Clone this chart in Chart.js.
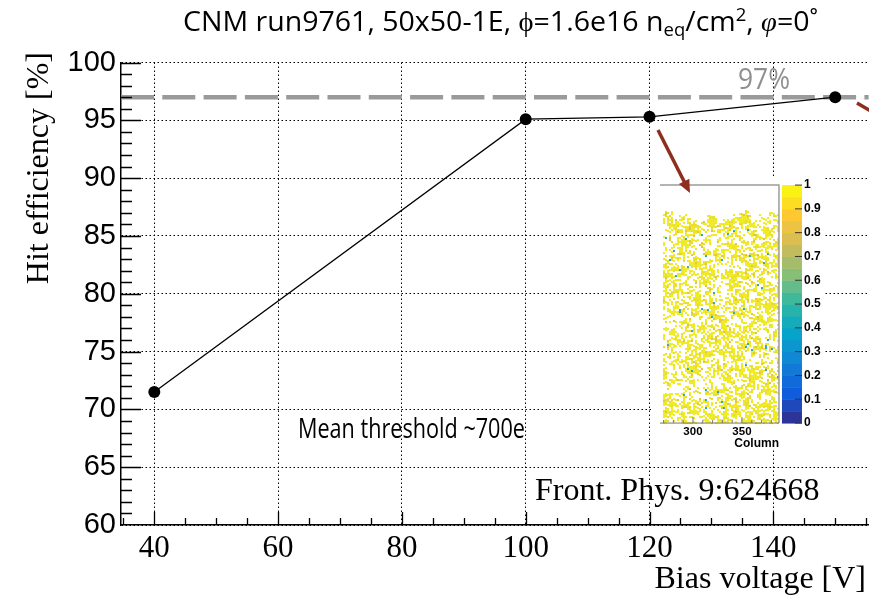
<!DOCTYPE html>
<html><head><meta charset="utf-8">
<script src="https://cdn.jsdelivr.net/npm/chart.js@4"></script>
<style>html,body{margin:0;padding:0;background:#fff}#wrap{width:869px;height:599px;position:relative}</style>
</head><body><div id="wrap"><canvas id="c" width="869" height="599"></canvas></div>
<script>
// ---- data ----
const biasVoltage = [40, 100, 120, 150];
const hitEfficiency = [71.5, 95.1, 95.3, 97.0];
const xTickValues = [40, 60, 80, 100, 120, 140];
const yTickValues = [60, 65, 70, 75, 80, 85, 90, 95, 100];
const referenceLevel = 97;
const referenceLabel = '97%';
const colorbarTicks = [0, 0.1, 0.2, 0.3, 0.4, 0.5, 0.6, 0.7, 0.8, 0.9, 1];
const insetColumnTicks = [250, 300, 350];

const X_MIN = 34.62, X_MAX = 155.46, Y_MIN = 60, Y_MAX = 100;

const bird = [[0.2082,0.1664,0.5293],[0.0592,0.3599,0.8684],[0.0780,0.5041,0.8385],[0.0232,0.6419,0.7914],[0.1802,0.7178,0.6425],[0.5301,0.7492,0.4662],[0.8186,0.7328,0.3499],[0.9956,0.7862,0.1968],[0.9764,0.9832,0.0539]];
function birdColor(t){
  const s = Math.max(0, Math.min(1, t)) * 8;
  const k = Math.min(7, Math.floor(s)), f = s - k;
  const a = bird[k], b = bird[k+1];
  const c = a.map((v,i)=>Math.round(255*(v + (b[i]-v)*f)));
  return `rgb(${c[0]},${c[1]},${c[2]})`;
}
function hash(i, j){ const h = Math.sin(i*127.1 + j*311.7) * 43758.5453; return h - Math.floor(h); }
function vnoise(x, y, cell, seed){
  const gx = Math.floor(x / cell), gy = Math.floor(y / cell);
  let fx = x / cell - gx, fy = y / cell - gy;
  fx = fx*fx*(3-2*fx); fy = fy*fy*(3-2*fy);
  const a = hash(gx+seed, gy), b = hash(gx+1+seed, gy), c = hash(gx+seed, gy+1), d = hash(gx+1+seed, gy+1);
  return (a*(1-fx) + b*fx)*(1-fy) + (c*(1-fx) + d*fx)*fy;
}

function drawTextRun(ctx, segs, cx, baseline, targetW){
  let total = 0;
  segs.forEach(s => { ctx.font = s.f; s.w = ctx.measureText(s.t).width; total += s.w; });
  const sx = targetW / total;
  ctx.save();
  ctx.translate(cx - targetW/2, baseline);
  ctx.scale(sx, 1);
  let x = 0;
  ctx.textAlign = 'left'; ctx.textBaseline = 'alphabetic';
  segs.forEach(s => { ctx.font = s.f; ctx.fillStyle = s.c || '#000'; ctx.fillText(s.t, x, s.dy || 0); x += s.w; });
  ctx.restore();
}

function arrow(ctx, x1, y1, x2, y2, color, headLen){
  const ang = Math.atan2(y2-y1, x2-x1);
  ctx.save();
  ctx.strokeStyle = color; ctx.fillStyle = color; ctx.lineWidth = 3.5;
  ctx.beginPath(); ctx.moveTo(x1, y1);
  ctx.lineTo(x2 - Math.cos(ang)*headLen*0.8, y2 - Math.sin(ang)*headLen*0.8); ctx.stroke();
  if (headLen > 0){
    ctx.beginPath(); ctx.moveTo(x2, y2);
    ctx.lineTo(x2 - headLen*Math.cos(ang) + headLen*0.45*Math.sin(ang), y2 - headLen*Math.sin(ang) - headLen*0.45*Math.cos(ang));
    ctx.lineTo(x2 - headLen*Math.cos(ang) - headLen*0.45*Math.sin(ang), y2 - headLen*Math.sin(ang) + headLen*0.45*Math.cos(ang));
    ctx.closePath(); ctx.fill();
  }
  ctx.restore();
}

const decor = {
  id: 'decor',
  beforeDatasetsDraw(chart){
    const ctx = chart.ctx, xs = chart.scales.x, ys = chart.scales.y;
    // reference dashed line
    const yr = ys.getPixelForValue(referenceLevel);
    ctx.save();
    ctx.strokeStyle = '#9a9a9a'; ctx.lineWidth = 4.5; ctx.setLineDash([33, 8.3]);
    ctx.beginPath(); ctx.moveTo(xs.getPixelForValue(X_MIN), yr); ctx.lineTo(xs.getPixelForValue(155.4), yr); ctx.stroke();
    ctx.restore();

    // inset (efficiency map) anchored at data position
    const L = xs.getPixelForValue(121.69), T = ys.getPixelForValue(89.40);
    const W = 119, H = 238;
    ctx.save();
    ctx.fillStyle = '#fff';
    ctx.fillRect(L - 9, T - 9, 172, 274);
    // speckles (texture only)
    for (let i = 0; i < Math.floor((W - 3) / 2); i++){
      const top = T + 24 + Math.floor(vnoise(i*2, 0, 6, 9) * 14);
      for (let y = top; y < T + H; y += 2){
        const j = Math.floor((y - T) / 2);
        const v = 0.42*vnoise(i*2, y - T, 6, 0) + 0.58*hash(i+17, j+5);
        if (v > 0.5){
          let col = 'rgb(240,234,28)';
          const r = hash(i+101, j+57);
          if (r > 0.985) col = 'rgb(40,165,200)';
          else if (r > 0.94) col = 'rgb(226,196,62)';
          else if (r > 0.75) col = 'rgb(232,220,44)';
          ctx.fillStyle = col;
          ctx.fillRect(L + 3 + i*2, y, 2, 2);
        }
      }
    }
    // frame
    ctx.strokeStyle = '#9c9c9c'; ctx.lineWidth = 1.5;
    ctx.beginPath(); ctx.moveTo(L, T); ctx.lineTo(L + W, T); ctx.lineTo(L + W, T + H); ctx.stroke();
    ctx.strokeStyle = '#777'; ctx.lineWidth = 1;
    ctx.beginPath(); ctx.moveTo(L, T + H); ctx.lineTo(L + W, T + H); ctx.stroke();
    // column ticks (every 10 columns)
    const colPx = (c) => L + 33 + (c - 300) * (49 / 50);
    ctx.beginPath();
    for (let c = 270; c <= 390; c += 10){
      const px = colPx(c); if (px < L || px > L + W) continue;
      const len = (c % 50 === 0) ? 6 : 3;
      ctx.moveTo(px, T + H); ctx.lineTo(px, T + H - len);
    }
    ctx.stroke();
    ctx.save();
    ctx.beginPath(); ctx.rect(L, T + H, W + 40, 30); ctx.clip();
    ctx.fillStyle = '#000'; ctx.font = 'bold 11.5px "Liberation Sans"'; ctx.textAlign = 'center'; ctx.textBaseline = 'middle';
    insetColumnTicks.forEach(c => ctx.fillText(String(c), colPx(c), T + H + 9));
    ctx.restore();
    ctx.fillStyle = '#000'; ctx.font = 'bold 12px "Liberation Sans"'; ctx.textAlign = 'right'; ctx.textBaseline = 'middle';
    ctx.fillText('Column', L + W, T + H + 21);
    // colorbar
    const cbL = L + 122, cbW = 20;
    for (let k = 0; k < 20; k++){
      const y1 = T + H - (k+1) * H / 20, y0 = T + H - k * H / 20;
      ctx.fillStyle = birdColor((k + 0.5) / 20);
      ctx.fillRect(cbL, y1, cbW, y0 - y1 + 0.5);
    }
    ctx.strokeStyle = '#333'; ctx.lineWidth = 1;
    ctx.beginPath();
    colorbarTicks.forEach(t => { const y = T + H - t * H; ctx.moveTo(cbL + cbW - 7, y); ctx.lineTo(cbL + cbW, y); });
    ctx.stroke();
    ctx.font = 'bold 12px "Liberation Sans"'; ctx.textAlign = 'left'; ctx.fillStyle = '#000';
    colorbarTicks.forEach(t => ctx.fillText(String(t), cbL + cbW + 2, T + H - t * H));
    ctx.restore();
  },
  afterDraw(chart){
    const ctx = chart.ctx, xs = chart.scales.x, ys = chart.scales.y, ca = chart.chartArea;
    // inward tick marks
    ctx.save();
    ctx.strokeStyle = '#000'; ctx.lineWidth = 1.3;
    ctx.beginPath();
    for (let v = 61; v <= 100; v++){
      const y = Math.round(ys.getPixelForValue(v)) + 0.5;
      const len = v % 5 === 0 ? 20 : 11;
      ctx.moveTo(ca.left, y); ctx.lineTo(ca.left + len, y);
    }
    for (let v = 35; v <= X_MAX; v += 5){
      const x = Math.round(xs.getPixelForValue(v)) + 0.5;
      const len = v % 20 === 0 ? 13 : 7;
      ctx.moveTo(x, ca.bottom); ctx.lineTo(x, ca.bottom - len);
    }
    ctx.stroke();
    ctx.restore();

    // reference label
    const yr = ys.getPixelForValue(referenceLevel);
    drawTextRun(ctx, [{t: referenceLabel, f: '30px "Open Sans"', c: '#8f8f8f'}], xs.getPixelForValue(138.5), yr - 8, 52);

    // arrows
    arrow(ctx, xs.getPixelForValue(121.37), ys.getPixelForValue(94.16), xs.getPixelForValue(126.54), ys.getPixelForValue(88.71), '#8e2e1e', 13);
    arrow(ctx, xs.getPixelForValue(153.52), ys.getPixelForValue(96.50), xs.getPixelForValue(156.9), ys.getPixelForValue(95.45), '#8e2e1e', 0);

    // title
    const tb = 27, ts = 17.5;
    drawTextRun(ctx, [
      {t: 'CNM run9761, 50x50-1E, ϕ=1.6e16 n', f: `${tb}px "Open Sans"`},
      {t: 'eq', f: `${ts}px "Open Sans"`, dy: 5},
      {t: '/cm', f: `${tb}px "Open Sans"`},
      {t: '2', f: `${ts}px "Open Sans"`, dy: -10},
      {t: ', ', f: `${tb}px "Open Sans"`},
      {t: 'φ', f: `italic ${tb}px "Liberation Serif"`},
      {t: '=0˚', f: `${tb}px "Open Sans"`}
    ], 500.5, 31, 635);

    // annotation texts
    drawTextRun(ctx, [{t: 'Mean threshold ~700e', f: '28px "Open Sans"'}], (298 + 525) / 2, ys.getPixelForValue(67.52), 227);
    ctx.save();
    ctx.fillStyle = '#000'; ctx.textBaseline = 'alphabetic';
    ctx.font = '32px "Liberation Serif"'; ctx.textAlign = 'left';
    ctx.fillText('Front. Phys. 9:624668', xs.getPixelForValue(101.5), ys.getPixelForValue(62.13));
    // axis titles
    ctx.textAlign = 'right';
    ctx.fillText('Bias voltage [V]', 866, 588);
    ctx.translate(48, 52); ctx.rotate(-Math.PI/2);
    ctx.fillText('Hit efficiency [%]', 0, 0);
    ctx.restore();
  }
};

new Chart(document.getElementById('c'), {
  type: 'line',
  data: {
    datasets: [{
      data: biasVoltage.map((v, i) => ({x: v, y: hitEfficiency[i]})),
      borderColor: '#000', borderWidth: 1.3, tension: 0,
      pointRadius: 6, pointBackgroundColor: '#000', pointBorderColor: '#000', pointBorderWidth: 0,
      clip: false
    }]
  },
  options: {
    responsive: false, animation: false, devicePixelRatio: 1,
    layout: {autoPadding: false, padding: {top: 62.5, right: 0, left: 0, bottom: 0}},
    plugins: {legend: {display: false}, tooltip: {enabled: false}, title: {display: false}},
    scales: {
      x: {
        type: 'linear', min: X_MIN, max: X_MAX,
        afterBuildTicks: s => { s.ticks = xTickValues.map(v => ({value: v})); },
        afterFit: s => { s.height = 74; s.paddingLeft = 0; s.paddingRight = 0; },
        grid: {color: '#000', lineWidth: 1, drawTicks: false},
        border: {display: true, color: '#000', width: 1.5, dash: [1.5, 2.5]},
        ticks: {color: '#000', font: {family: 'Liberation Serif', size: 31}, padding: 5, maxRotation: 0, autoSkip: false}
      },
      y: {
        type: 'linear', min: Y_MIN, max: Y_MAX,
        afterBuildTicks: s => { s.ticks = yTickValues.map(v => ({value: v})); },
        afterFit: s => { s.width = 121; },
        grid: {color: '#000', lineWidth: 1, drawTicks: false},
        border: {display: true, color: '#000', width: 1.5, dash: [1.5, 2.5]},
        ticks: {color: '#000', font: {family: 'Liberation Sans', size: 29}, padding: 5, autoSkip: false}
      }
    }
  },
  plugins: [decor]
});
</script></body></html>
